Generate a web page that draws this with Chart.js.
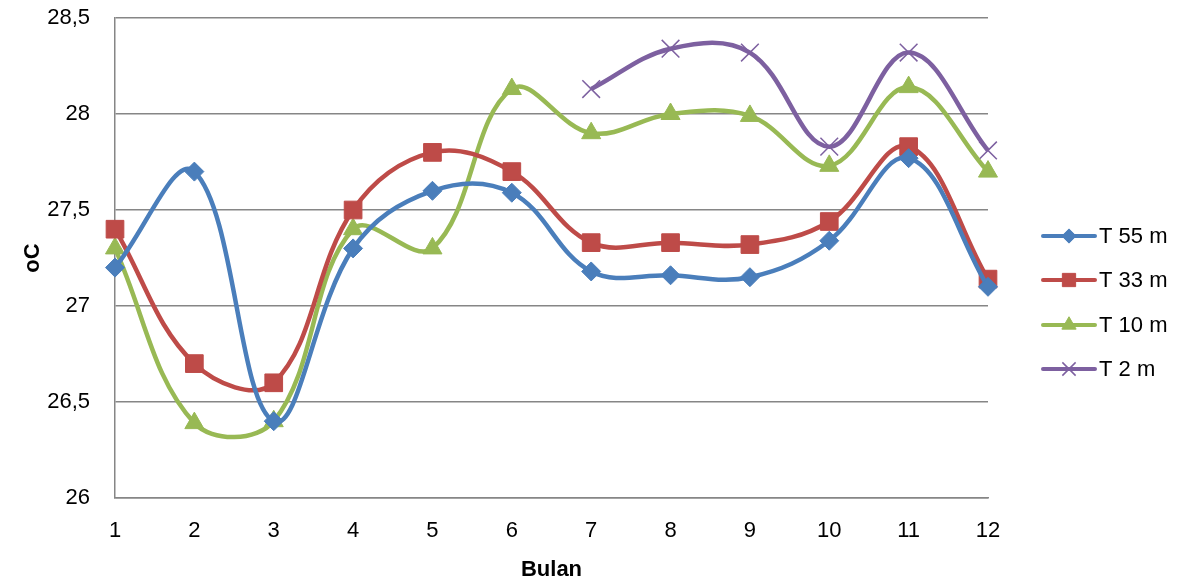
<!DOCTYPE html>
<html>
<head>
<meta charset="utf-8">
<script src="https://cdn.jsdelivr.net/npm/chart.js@4"></script>
<style>
  html, body { margin:0; padding:0; background:#fff; }
  #wrap { width:1191px; height:583px; }
</style>
</head>
<body>
<div id="wrap"><canvas id="c" width="1191" height="583"></canvas></div>
<script>
// data
const bulan = ['1','2','3','4','5','6','7','8','9','10','11','12'];
const t55 = [27.2, 27.7, 26.4, 27.3, 27.6, 27.59, 27.18, 27.16, 27.15, 27.34, 27.77, 27.1];
const t33 = [27.4, 26.7, 26.6, 27.5, 27.8, 27.7, 27.33, 27.33, 27.32, 27.44, 27.83, 27.14];
const t10 = [27.3, 26.39, 26.4, 27.4, 27.3, 28.13, 27.9, 28.0, 27.99, 27.73, 28.14, 27.7];
const t2  = [null, null, null, null, null, null, 28.13, 28.34, 28.32, 27.83, 28.32, 27.81];
const yTicks = [26, 26.5, 27, 27.5, 28, 28.5];

const FONT = 'Liberation Sans';

const series = [
  { label:'T 55 m', data:t55, color:'#4a7ebb', style:'rectRot', r:9.5,  bw:1 },
  { label:'T 33 m', data:t33, color:'#be4b48', style:'rect',    r:12.5, bw:1 },
  { label:'T 10 m', data:t10, color:'#98b954', style:'triangle',r:11,   bw:1 },
  { label:'T 2 m',  data:t2,  color:'#7d60a0', style:'crossRot',r:12.5, bw:1.5 }
];

// legend drawn by hand: line + marker + text, like the Excel one
const excelLegend = {
  id:'excelLegend',
  afterDraw(chart){
    const ctx = chart.ctx;
    const ys = [236, 280, 325, 369];
    series.forEach((s, i) => {
      const y = ys[i];
      ctx.save();
      ctx.strokeStyle = s.color;
      ctx.lineWidth = 4;
      ctx.lineCap = 'round';
      ctx.beginPath(); ctx.moveTo(1043, y); ctx.lineTo(1095, y); ctx.stroke();
      ctx.restore();
      ctx.save();
      ctx.fillStyle = s.color; ctx.strokeStyle = s.color;
      ctx.lineWidth = s.bw;
      Chart.helpers.drawPoint(ctx, { pointStyle:s.style, radius:s.r * 0.75, borderWidth:s.bw, rotation:0 }, 1069, y);
      ctx.restore();
      ctx.save();
      ctx.fillStyle = '#000';
      ctx.font = '22px "' + FONT + '"';
      ctx.textBaseline = 'middle';
      ctx.textAlign = 'left';
      ctx.fillText(s.label, 1099, y + 1);
      ctx.restore();
    });
  }
};

new Chart(document.getElementById('c'), {
  type:'line',
  data:{
    labels: bulan,
    datasets: series.map(s => ({
      label: s.label,
      data: s.data,
      borderColor: s.color,
      backgroundColor: s.color,
      borderWidth: 4.5,
      tension: 0.38,
      pointStyle: s.style,
      pointRadius: s.r,
      pointBorderWidth: s.bw,
      pointBorderColor: s.color,
      pointBackgroundColor: s.color,
      spanGaps: false
    }))
  },
  options:{
    responsive:false,
    animation:false,
    layout:{ padding:{ top:18, right:203, left:0, bottom:0 } },
    plugins:{ legend:{ display:false }, tooltip:{ enabled:false } },
    scales:{
      x:{
        offset:false,
        grid:{ display:false, drawTicks:false },
        border:{ display:true, color:'#868686', width:1.5 },
        ticks:{ color:'#000', font:{ family:FONT, size:22 }, padding:20, maxRotation:0, autoSkip:false },
        title:{ display:true, text:'Bulan', color:'#000', font:{ family:FONT, size:22, weight:'bold' }, padding:{ top:6, bottom:0 } },
        afterFit(scale){ scale.height = 85; scale.paddingLeft = 0; scale.paddingRight = 0; }
      },
      y:{
        min:26, max:28.5,
        afterBuildTicks(scale){ scale.ticks = yTicks.map(v => ({ value:v })); },
        grid:{ color:'#868686', lineWidth:1.5, drawTicks:false },
        border:{ display:true, color:'#868686', width:1.5 },
        ticks:{ color:'#000', font:{ family:FONT, size:22 }, padding:25,
          callback:(v) => String(v).replace('.', ',') },
        title:{ display:true, text:'oC', color:'#000', font:{ family:FONT, size:22, weight:'bold' }, padding:{ top:20, bottom:0 } },
        afterFit(scale){ scale.width = 115; scale.paddingTop = 0; scale.paddingBottom = 0; }
      }
    }
  },
  plugins:[excelLegend]
});
</script>
</body>
</html>
